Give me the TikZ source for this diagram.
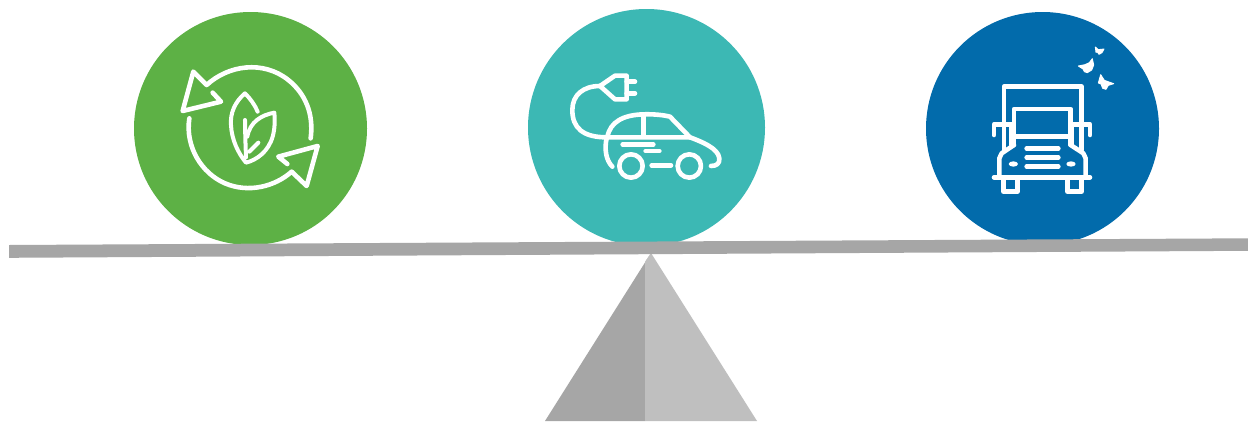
\documentclass[tikz,border=0pt]{standalone}
\definecolor{leafgreen}{HTML}{5DB145}
\definecolor{tealc}{HTML}{3CB8B4}
\definecolor{bluec}{HTML}{026BAB}
\definecolor{beamc}{HTML}{A6A6A6}
\definecolor{lightc}{HTML}{BFBFBF}
\tikzset{
  icon/.style={draw=white,line width=4.6pt,line cap=round,line join=round},
  thinicon/.style={draw=white,line width=4pt,line cap=round,line join=round},
  fly/.style={fill=white,draw=white,line width=0.9pt,line join=round},
}
\begin{document}
\begin{tikzpicture}[x=1pt,y=-1pt]
\useasboundingbox (0,0) rectangle (1248,421);
\fill[white] (0,0) rectangle (1248,421);
% discs
\fill[leafgreen] (250.5,128.5) circle (116.5);
\fill[tealc] (646.5,127.5) circle (118.5);
\fill[bluec] (1042.5,128.5) circle (116.5);
% fulcrum
\fill[beamc] (651,253) -- (545,421) -- (645,421) -- (645,262) -- cycle;
\fill[lightc] (651,253) -- (757,421) -- (645,421) -- (645,262) -- cycle;
% beam
\fill[beamc] (9,245) -- (1248,238.3) -- (1248,250.8) -- (9,257.8) -- cycle;
% recycle icon
\begin{scope}[shift={(160,50)},x=0.3333pt,y=-0.3333pt]
  \draw[icon] (452,265) .. controls (462,190) and (435,130) .. (385,90)
     .. controls (310,30) and (205,45) .. (140,105) -- (100,65) -- (68,183) -- (183,155) -- (158,128);
  \draw[icon] (88,205) .. controls (75,290) and (125,370) .. (195,400)
     .. controls (265,430) and (345,410) .. (395,365) -- (440,408) -- (473,288) -- (355,320) -- (382,342);
  \draw[thinicon] (293,185) .. controls (285,165) and (270,145) .. (255,130)
     .. controls (225,155) and (210,190) .. (213,225) .. controls (215,270) and (235,310) .. (258,338)
     .. controls (290,330) and (325,305) .. (338,260) .. controls (345,235) and (345,210) .. (343,188)
     .. controls (305,195) and (270,215) .. (262,260);
  \draw[thinicon] (255,210) -- (256,265) -- (258,322);
  \draw[thinicon] (268,305) -- (295,278);
\end{scope}
% car icon
\begin{scope}[shift={(555,60)},x=0.3333pt,y=-0.3333pt]
  \draw[icon] (135,78) .. controls (85,78) and (52,105) .. (52,150)
     .. controls (52,205) and (85,232) .. (155,232) -- (405,232);
  \draw[icon] (135,78) -- (180,47) -- (215,47) -- (215,118) -- (180,118) -- cycle;
  \draw[icon] (215,65) -- (240,65);
  \draw[icon] (215,100) -- (240,100);
  \draw[icon] (157,232) .. controls (165,185) and (205,165) .. (265,163)
     .. controls (295,162) and (325,165) .. (345,170) -- (405,232)
     .. controls (440,245) and (490,265) .. (493,295) .. controls (495,310) and (485,318) .. (468,318);
  \draw[icon] (265,165) -- (265,228);
  \draw[icon] (155,235) .. controls (148,265) and (152,300) .. (172,320);
  \draw[icon] (228,318) circle (35);
  \draw[icon] (403,318) circle (35);
  \draw[icon] (290,316) -- (348,316);
  \draw[icon] (203,253) -- (295,253);
  \draw[icon] (272,273) -- (313,273);
\end{scope}
% truck icon
\begin{scope}[shift={(970,35)},x=0.3333pt,y=-0.3333pt]
  \draw[icon] (102,265) -- (102,155) -- (335,155) -- (335,265);
  \draw[icon] (132,300) -- (132,222) -- (302,222) -- (302,300);
  \draw[icon] (125,305) -- (305,305);
  \draw[icon] (72,300) -- (72,268) -- (128,268);
  \draw[icon] (360,300) -- (360,268) -- (305,268);
  \draw[icon] (102,268) -- (102,345);
  \draw[icon] (125,270) -- (125,330);
  \draw[icon] (335,268) -- (335,345);
  \draw[icon] (306,270) -- (306,330);
  \draw[icon] (132,330) -- (95,355) -- (88,370) -- (88,427);
  \draw[icon] (132,330) -- (132,308);
  \draw[icon] (302,330) -- (340,355) -- (347,370) -- (347,427);
  \draw[icon] (302,330) -- (302,308);
  \draw[icon] (72,427) -- (360,427);
  \draw[icon] (100,430) -- (100,470) -- (142,470) -- (142,430);
  \draw[icon] (292,430) -- (292,470) -- (335,470) -- (335,430);
  \draw[icon] (170,340) -- (265,340);
  \draw[icon] (170,368) -- (265,368);
  \draw[icon] (170,395) -- (265,395);
  \fill[white] (130,387) ellipse (14 and 8);
  \fill[white] (303,387) ellipse (14 and 8);
\end{scope}
% butterflies
\begin{scope}[shift={(1070,40)},x=0.3333pt,y=-0.3333pt]
  \filldraw[fly] (76,21) -- (85,29) -- (102,27) -- (96,38) -- (87,43) -- (82,36) -- (78,37) -- cycle;
  \filldraw[fly] (67,56) -- (71,75) -- (65,90) -- (52,98) -- (43,95) -- (39,87) -- (25,78) -- (45,74) -- (58,68) -- cycle;
  \filldraw[fly] (92,104) -- (103,121) -- (131,131) -- (115,136) -- (108,148) -- (98,145) -- (93,132) -- (85,129) -- cycle;
\end{scope}
\end{tikzpicture}
\end{document}
